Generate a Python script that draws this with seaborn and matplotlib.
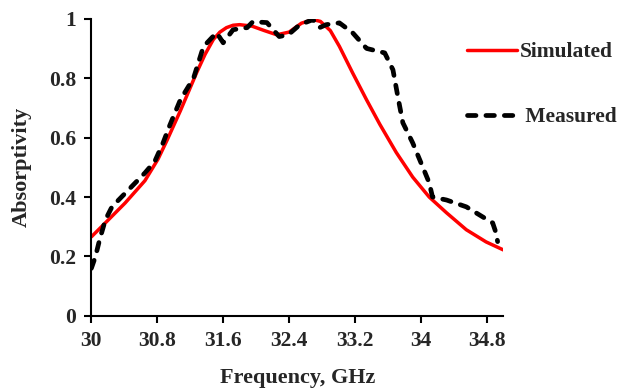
import seaborn as sns
import matplotlib.pyplot as plt
import pandas as pd
from matplotlib.ticker import FuncFormatter

# simulated absorptivity
sim_freq = [30.0, 30.17, 30.41, 30.65, 30.81, 30.92, 31.08, 31.18, 31.28, 31.38,
            31.48, 31.56, 31.64, 31.72, 31.8, 31.95, 32.1, 32.25, 32.4, 32.55,
            32.69, 32.78, 32.9, 33.01, 33.17, 33.34, 33.5, 33.7, 33.9, 34.1,
            34.31, 34.55, 34.79, 35.0]
sim_abs = [0.266, 0.313, 0.38, 0.455, 0.528, 0.592, 0.69, 0.755, 0.82, 0.88,
           0.93, 0.955, 0.97, 0.978, 0.98, 0.975, 0.96, 0.946, 0.955, 0.985,
           0.997, 0.991, 0.96, 0.907, 0.818, 0.727, 0.645, 0.55, 0.467, 0.40,
           0.347, 0.29, 0.249, 0.222]

# measured absorptivity
meas_freq = [30.0, 30.05, 30.1, 30.17, 30.25, 30.45, 30.65, 30.77, 30.87, 30.95,
             31.08, 31.24, 31.36, 31.52, 31.6, 31.72, 31.89, 31.96, 32.13, 32.28,
             32.39, 32.53, 32.69, 32.77, 32.85, 33.01, 33.17, 33.34, 33.56, 33.66,
             33.72, 33.78, 33.9, 34.02, 34.1, 34.14, 34.31, 34.55, 34.75, 34.87,
             34.91, 34.93]
meas_abs = [0.16, 0.2, 0.256, 0.323, 0.367, 0.424, 0.481, 0.52, 0.582, 0.64,
            0.727, 0.80, 0.906, 0.953, 0.919, 0.963, 0.97, 0.99, 0.987, 0.94,
            0.946, 0.98, 0.997, 0.97, 0.98, 0.986, 0.953, 0.90, 0.885, 0.828,
            0.737, 0.65, 0.582, 0.502, 0.448, 0.40, 0.39, 0.367, 0.333, 0.313,
            0.28, 0.25]

x_ticks = [30, 30.8, 31.6, 32.4, 33.2, 34, 34.8]
y_ticks = [0, 0.2, 0.4, 0.6, 0.8, 1]

sim = pd.DataFrame({'Frequency': sim_freq, 'Absorptivity': sim_abs})
meas = pd.DataFrame({'Frequency': meas_freq, 'Absorptivity': meas_abs})

sns.set_style("ticks")
plt.rcParams['font.family'] = ['Liberation Serif', 'DejaVu Serif']
plt.rcParams['font.weight'] = 'bold'
plt.rcParams['axes.labelweight'] = 'bold'

fig = plt.figure(figsize=(6.3, 3.9), dpi=100)
ax = fig.add_axes([0.145, 0.19, 0.654, 0.762])

sns.lineplot(data=sim, x='Frequency', y='Absorptivity', ax=ax, color='#ff0000',
             linewidth=2.5, label='Simulated', sort=False)
sns.lineplot(data=meas, x='Frequency', y='Absorptivity', ax=ax, color='black',
             linewidth=3.4, label=' Measured', sort=False)
ax.lines[1].set_dashes([1.8, 2.1])
ax.lines[1].set_dash_capstyle('round')
ax.lines[1].set_solid_joinstyle('round')

ax.set_xlim(30, 35)
ax.set_ylim(0, 1)
ax.set_xticks(x_ticks)
ax.set_yticks(y_ticks)
ax.xaxis.set_major_formatter(FuncFormatter(lambda v, p: f'{v:g}'))
ax.yaxis.set_major_formatter(FuncFormatter(lambda v, p: f'{v:g}'))
ax.tick_params(labelsize=15.5, width=1.5, length=5, color='black', pad=6)
ax.set_xlabel('Frequency, GHz', fontsize=16, fontweight='bold', labelpad=12)
ax.set_ylabel('Absorptivity', fontsize=16, fontweight='bold', labelpad=12)
sns.despine(ax=ax)
for s in ['left', 'bottom']:
    ax.spines[s].set_linewidth(1.5)
    ax.spines[s].set_color('black')

ax.legend(loc='upper left', bbox_to_anchor=(467 / 630, 1 - 42 / 390),
          bbox_transform=fig.transFigure, frameon=False,
          handlelength=2.3, handletextpad=0.15, labelspacing=2.1,
          borderpad=0, borderaxespad=0, prop={'weight': 'bold', 'size': 15.5})

fig.savefig('out.png', dpi=100)
